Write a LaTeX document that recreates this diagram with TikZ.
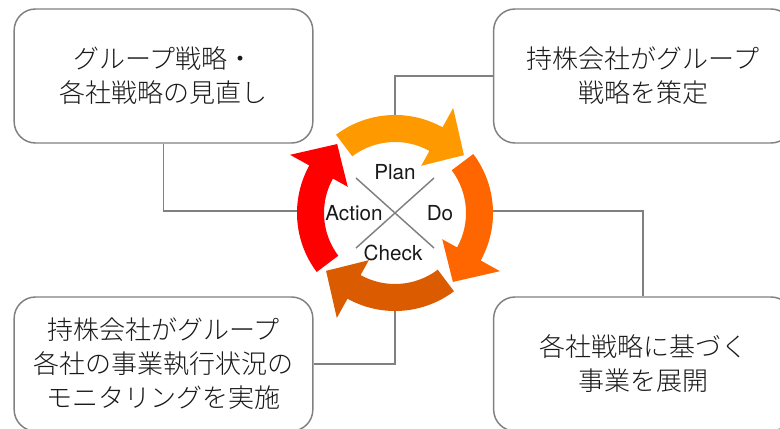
\documentclass[tikz,border=0pt]{standalone}
\usepackage{fontspec}
\setmainfont{TeX Gyre Heros}
\newfontfamily\jp{Noto Sans CJK JP Light}
\usetikzlibrary{calc}
\definecolor{cPlan}{HTML}{FF9900}
\definecolor{cDo}{HTML}{FF6600}
\definecolor{cCheck}{HTML}{DA5B00}
\definecolor{cAct}{HTML}{FF0000}
\definecolor{g1}{HTML}{808080}
\tikzset{box/.style={draw=g1,line width=1.1pt,rounded corners=16pt,
    minimum width=224pt,minimum height=100.5pt,align=center,
    font=\jp\fontsize{19.5}{25.5}\selectfont,text=black!90}}
\tikzset{link/.style={draw=g1,line width=0.9pt}}
\tikzset{pdca/.style={font=\fontsize{15.5}{18}\selectfont,text=black!90}}

\begin{document}
\begin{tikzpicture}[x=0.75pt,y=0.75pt]
  \useasboundingbox (0,0) rectangle (780,428);
  \clip (0,0) rectangle (780,428);
  \def\ri{71}
  \def\ro{98}
  \coordinate (cyc) at (395,215);
  % boxes
  \node[box] (review) at (163.5,352) {グループ戦略・\\各社戦略の見直し};
  \node[box] (planbox) at (643,352) {持株会社がグループ\\戦略を策定};
  \node[box] (exec) at (643,64) {各社戦略に基づく\\事業を展開};
  \node[box] (monitor) at (163.5,64) {持株会社がグループ\\各社の事業執行状況の\\モニタリングを実施};
  % connectors (ends hidden under the arrows)
  \coordinate (planIn) at ($(cyc)+(0,86)$);
  \coordinate (doIn) at ($(cyc)+(86,2)$);
  \coordinate (checkIn) at ($(cyc)+(0,-86)$);
  \coordinate (actIn) at ($(cyc)+(-86,2)$);
  \draw[link] (planbox.west) -| (planIn);
  \draw[link] (doIn) -| (exec.north);
  \draw[link] (checkIn) |- (monitor.east);
  \draw[link] (review.south) |- (actIn);
  % cycle arrows
  \foreach \t/\c in {127/cPlan,37/cDo,-53/cCheck,-143/cAct}{
    \pgfmathsetmacro\hb{\t-66}
    \pgfmathsetmacro\tp{\t-87}
    \fill[\c,shift={(cyc)}] (\t:\ri) arc[start angle=\t,end angle=\hb,radius=\ri]
      -- (\hb:54) -- (\tp:90) -- (\hb:120) -- (\hb:\ro)
      arc[start angle=\hb,end angle=\t,radius=\ro] -- cycle;
  }
  % cross and labels
  \draw[g1,line width=1.1pt] ($(cyc)+(-39,35)$) -- ($(cyc)+(39,-35)$);
  \draw[g1,line width=1.1pt] ($(cyc)+(39,35)$) -- ($(cyc)+(-39,-35)$);
  \node[pdca] (plan) at ($(cyc)+(0,41)$) {Plan};
  \node[pdca] (do) at ($(cyc)+(45,0)$) {Do};
  \node[pdca] (check) at ($(cyc)+(-2,-40)$) {Check};
  \node[pdca] (action) at ($(cyc)+(-41,0)$) {Action};
\end{tikzpicture}
\end{document}
